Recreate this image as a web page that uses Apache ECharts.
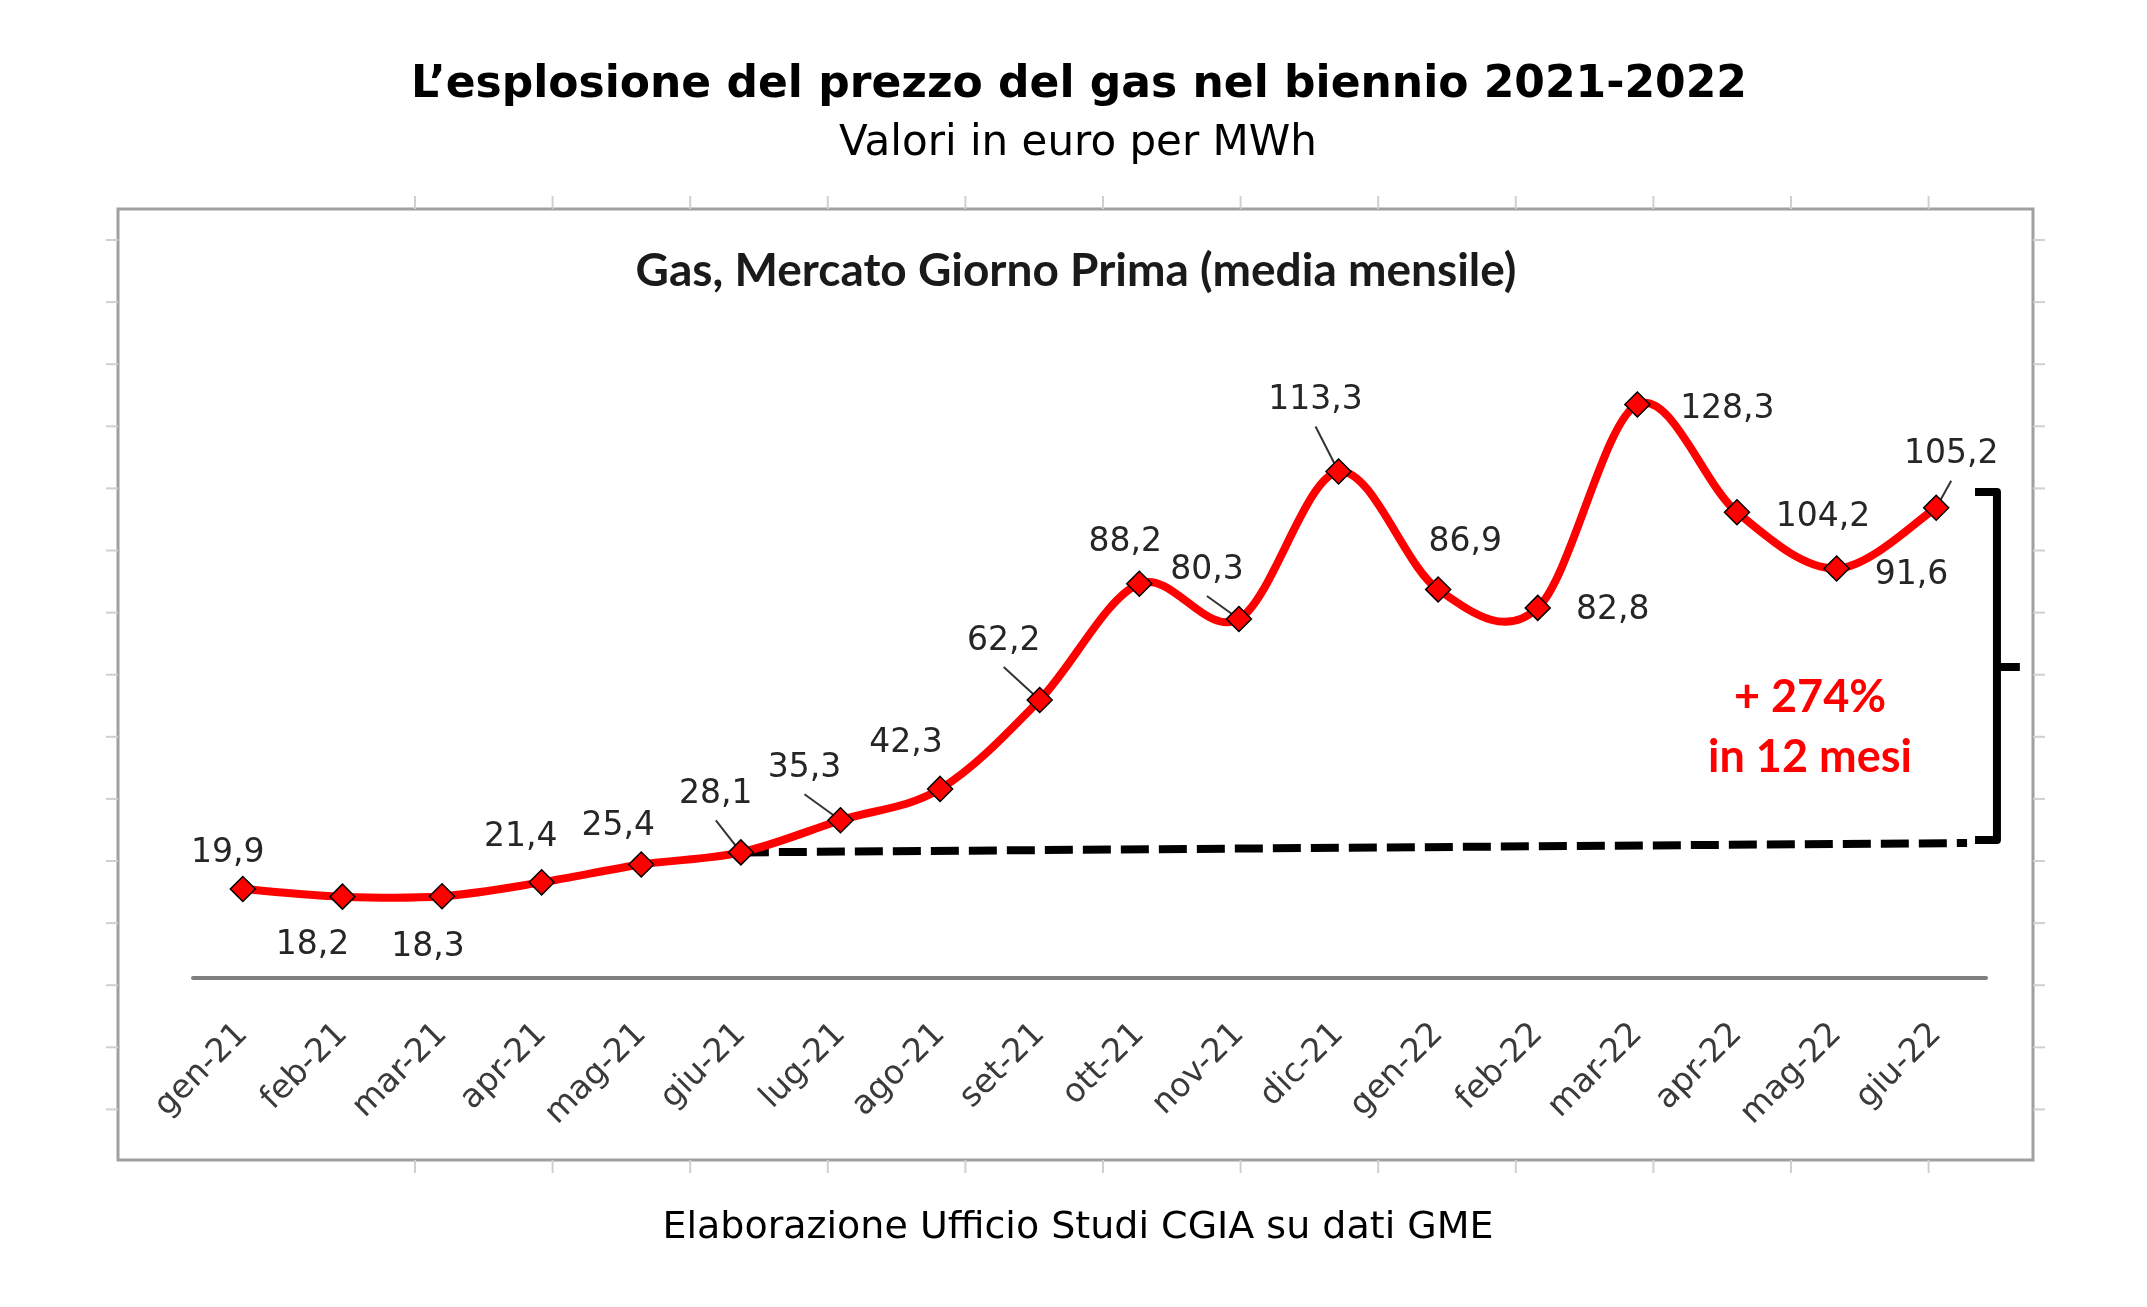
<!DOCTYPE html>
<html>
<head>
<meta charset="utf-8">
<script src="https://cdn.jsdelivr.net/npm/echarts@6/dist/echarts.min.js"></script>
<style>
html,body{margin:0;padding:0;background:#fff;}
#chart{width:2147px;height:1307px;}
</style>
</head>
<body>
<div id="chart"></div>
<script>
// ---- data ----
const categories = ['gen-21','feb-21','mar-21','apr-21','mag-21','giu-21','lug-21','ago-21','set-21','ott-21','nov-21','dic-21','gen-22','feb-22','mar-22','apr-22','mag-22','giu-22'];
const prices = [19.9, 18.2, 18.3, 21.4, 25.4, 28.1, 35.3, 42.3, 62.2, 88.2, 80.3, 113.3, 86.9, 82.8, 128.3, 104.2, 91.6, 105.2];
const baseIndex = 5;      // giu-21
const lastIndex = 17;     // giu-22
const chartTitle = 'L\u2019esplosione del prezzo del gas nel biennio 2021-2022';
const chartSubtitle = 'Valori in euro per MWh';
const innerTitle = 'Gas, Mercato Giorno Prima (media mensile)';
const footer = 'Elaborazione Ufficio Studi CGIA su dati GME';

// ---- layout (label placement, annotation shapes) ----
const labelOffsets = [[-15,-36],[-30,49],[-14,51],[-21,-45],[-23,-38],[-25,-58],[-36,-52],[-34,-45],[-36,-59],[-14,-41],[-32,-49],[-23,-71],[27,-47],[75,3],[90,5],[86,5],[75,7],[15,-53]];
const leaderFlags = [0,0,0,0,0,1,1,0,1,0,1,1,0,0,0,0,0,1];
const dashEnd = [17.81, 30.2];
const bracketX = [17.89, 18.11, 18.34];
const bracketY = [30.9, 69.6, 108.7];

const fmt = v => v.toFixed(1).replace('.', ',');
const pct = Math.round((prices[lastIndex] / prices[baseIndex] - 1) * 100);

const chart = echarts.init(document.getElementById('chart'), null, {renderer:'canvas'});

// decorative box + outside ticks
const graphics = [];
const boxL = 118, boxT = 209, boxR = 2033, boxB = 1160;
graphics.push({type:'rect', z:-10, shape:{x:boxL, y:boxT, width:boxR-boxL, height:boxB-boxT}, style:{fill:'#fff', stroke:'#a0a0a0', lineWidth:3}});
for (let j = 0; j < 12; j++) {
  const x = 415 + j * 137.6;
  graphics.push({type:'line', z:-10, shape:{x1:x, y1:boxT-13, x2:x, y2:boxT}, style:{stroke:'#d0d0d0', lineWidth:2}});
  graphics.push({type:'line', z:-10, shape:{x1:x, y1:boxB, x2:x, y2:boxB+13}, style:{stroke:'#d0d0d0', lineWidth:2}});
}
for (let j = 0; j < 15; j++) {
  const y = 240 + j * 62.1;
  graphics.push({type:'line', z:-10, shape:{x1:boxL-12, y1:y, x2:boxL, y2:y}, style:{stroke:'#d0d0d0', lineWidth:2}});
  graphics.push({type:'line', z:-10, shape:{x1:boxR, y1:y, x2:boxR+12, y2:y}, style:{stroke:'#d0d0d0', lineWidth:2}});
}
const txt = (text, x, y, size, weight, family, color) => ({
  type:'text', x:x, y:y, z:10,
  style:{text:text, fontSize:size, fontWeight:weight, fontFamily:family, fill:color, align:'center', verticalAlign:'middle'}
});
graphics.push(txt(chartTitle, 1079, 86, 44, 'bold', 'DejaVu Sans', '#000'));
graphics.push(txt(chartSubtitle, 1078, 144, 42, 'normal', 'DejaVu Sans', '#000'));
graphics.push(txt(innerTitle, 1076, 271, 46, 'bold', 'Lato', '#1a1a1a'));
graphics.push(txt(footer, 1078, 1228, 38, 'normal', 'DejaVu Sans', '#000'));
graphics.push(txt('+ ' + pct + '%', 1810, 697, 45, 'bold', 'Lato', '#ff0000'));
graphics.push(txt('in 12 mesi', 1810, 757, 45, 'bold', 'Lato', '#ff0000'));

function pt(api, i) {
  const k = Math.max(0, Math.min(prices.length - 1, i));
  return api.coord([k, prices[k]]);
}

const option = {
  backgroundColor:'#fff',
  animation:false,
  graphic: graphics,
  grid:[
    {left:193, right:161, top:307.5, bottom:329},
    {left:193, right:61.4, top:307.5, bottom:329}
  ],
  xAxis:[
    {type:'category', gridIndex:0, data:categories, boundaryGap:true, position:'bottom',
     axisLine:{lineStyle:{color:'#7f7f7f', width:4}},
     axisTick:{length:13, lineStyle:{color:'#7f7f7f', width:2}},
     axisLabel:{rotate:45, margin:51, fontFamily:'DejaVu Sans', fontSize:33, color:'#3a3a3a'}},
    {type:'value', gridIndex:1, min:0, max:19, show:false}
  ],
  yAxis:[
    {type:'value', gridIndex:0, min:0, max:150, show:false},
    {type:'value', gridIndex:1, min:0, max:150, show:false}
  ],
  series:[
    // data labels with leader lines
    {type:'custom', z:1, xAxisIndex:0, yAxisIndex:0, data:prices.map((v,i)=>[i,v]),
     encode:{x:0, y:1},
     renderItem:function(params, api){
       const i = params.dataIndex;
       const p = api.coord([api.value(0), api.value(1)]);
       const off = labelOffsets[i];
       const lx = p[0] + off[0], ly = p[1] + off[1];
       const children = [];
       if (leaderFlags[i]) {
         children.push({type:'line', shape:{x1:lx, y1:ly+26, x2:p[0], y2:p[1]}, style:{stroke:'#333', lineWidth:2}});
       }
       children.push({type:'text', x:lx, y:ly, style:{text:fmt(api.value(1)), fontSize:33, fontFamily:'DejaVu Sans', fill:'#262626', align:'center', verticalAlign:'middle'}});
       return {type:'group', children:children};
     }},
    // dashed baseline
    {type:'line', z:2, xAxisIndex:1, yAxisIndex:1, symbol:'none',
     data:[[baseIndex + 0.5, prices[baseIndex]], dashEnd],
     lineStyle:{color:'#000', width:8, type:[28,10]}},
    // bracket
    {type:'line', z:2, xAxisIndex:1, yAxisIndex:1, symbol:'none',
     data:[[bracketX[0], bracketY[2]],[bracketX[1], bracketY[2]],[bracketX[1], bracketY[0]],[bracketX[0], bracketY[0]]],
     lineStyle:{color:'#000', width:8, join:'round'}},
    {type:'line', z:2, xAxisIndex:1, yAxisIndex:1, symbol:'none',
     data:[[bracketX[1], bracketY[1]],[bracketX[2], bracketY[1]]],
     lineStyle:{color:'#000', width:8}},
    // smoothed price curve (Catmull-Rom through the data points)
    {type:'custom', z:3, xAxisIndex:0, yAxisIndex:0, data:prices.map((v,i)=>[i,v]),
     encode:{x:0, y:1},
     renderItem:function(params, api){
       const i = params.dataIndex;
       if (i >= prices.length - 1) return {type:'group', children:[]};
       const p0 = pt(api, i-1), p1 = pt(api, i), p2 = pt(api, i+1), p3 = pt(api, i+2);
       return {type:'bezierCurve',
         shape:{x1:p1[0], y1:p1[1], x2:p2[0], y2:p2[1],
                cpx1:p1[0] + (p2[0]-p0[0])/6, cpy1:p1[1] + (p2[1]-p0[1])/6,
                cpx2:p2[0] - (p3[0]-p1[0])/6, cpy2:p2[1] - (p3[1]-p1[1])/6},
         style:{stroke:'#ff0000', lineWidth:8, fill:null, lineCap:'round'}};
     }},
    // markers
    {type:'line', z:4, xAxisIndex:0, yAxisIndex:0, data:prices,
     symbol:'diamond', symbolSize:25,
     lineStyle:{opacity:0, width:0},
     itemStyle:{color:'#ff0000', borderColor:'#000', borderWidth:1.5}}
  ]
};
chart.setOption(option);
</script>
</body>
</html>
